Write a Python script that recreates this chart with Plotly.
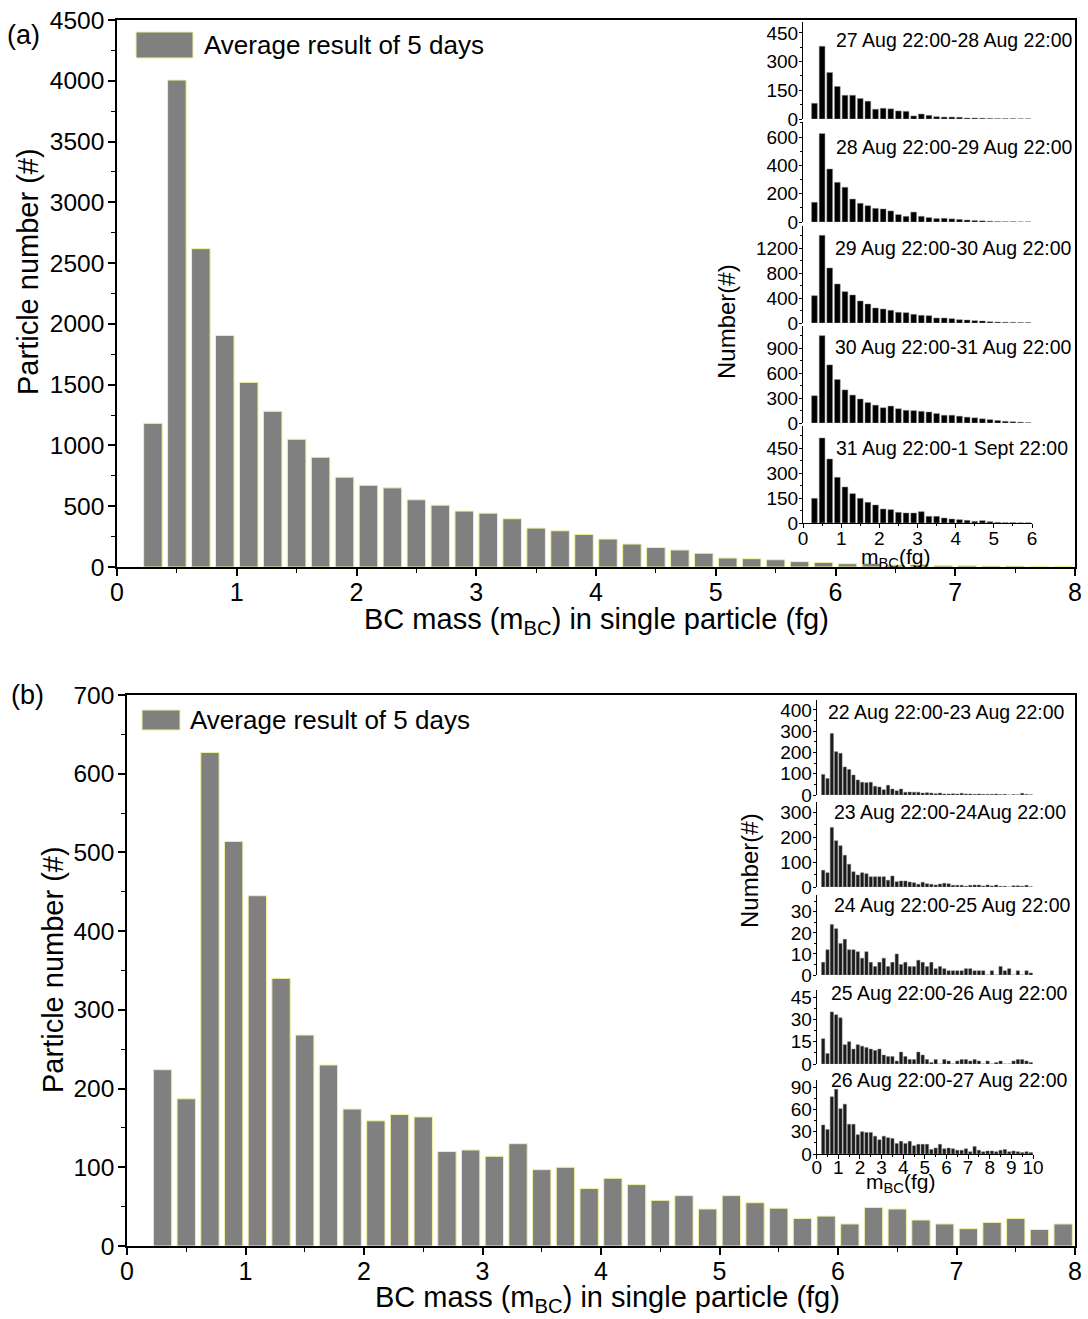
import plotly.graph_objects as go

W, H = 1088, 1319
FONT = "Liberation Sans, Arial, sans-serif"

# ---------------- data ----------------
main_bins = [0.3, 0.5, 0.7, 0.9, 1.1, 1.3, 1.5, 1.7, 1.9, 2.1, 2.3, 2.5, 2.7, 2.9, 3.1, 3.3,
             3.5, 3.7, 3.9, 4.1, 4.3, 4.5, 4.7, 4.9, 5.1, 5.3, 5.5, 5.7, 5.9, 6.1, 6.3, 6.5,
             6.7, 6.9, 7.1, 7.3, 7.5, 7.7, 7.9]
main_a = [1182, 4006, 2619, 1905, 1519, 1281, 1051, 903, 739, 672, 651, 553, 509, 460, 443, 397,
          320, 298, 268, 230, 189, 161, 140, 113, 74, 68, 60, 44, 38, 27, 30, 16,
          19, 14, 13, 8, 8, 5, 5]
main_b = [224, 187, 627, 514, 445, 340, 268, 230, 174, 159, 167, 164, 120, 122, 114, 130,
          97, 100, 73, 86, 78, 58, 64, 47, 64, 55, 48, 35, 38, 28, 49, 47,
          33, 28, 22, 30, 35, 21, 28]

inset_a_bins = [0.3, 0.5, 0.7, 0.9, 1.1, 1.3, 1.5, 1.7, 1.9, 2.1, 2.3, 2.5, 2.7, 2.9, 3.1,
                3.3, 3.5, 3.7, 3.9, 4.1, 4.3, 4.5, 4.7, 4.9, 5.1, 5.3, 5.5, 5.7, 5.9]
a1 = [82, 380, 243, 170, 124, 124, 107, 93, 51, 56, 53, 42, 40, 16, 26, 19, 12, 10, 10, 9, 5, 5, 4, 3, 2, 2, 2, 1, 1]
a2 = [139, 624, 374, 280, 245, 162, 132, 115, 96, 92, 78, 52, 40, 70, 40, 31, 24, 26, 22, 18, 14, 10, 8, 5, 3, 2, 2, 1, 1]
a3 = [437, 1403, 880, 624, 501, 448, 352, 304, 240, 224, 203, 171, 165, 139, 123, 117, 80, 80, 69, 53, 48, 37, 32, 20, 15, 12, 10, 8, 6]
a4 = [327, 1048, 697, 522, 397, 335, 288, 245, 214, 183, 203, 171, 152, 148, 140, 132, 113, 93, 93, 82, 70, 62, 50, 40, 30, 20, 15, 10, 5]
a5 = [148, 510, 384, 274, 216, 176, 148, 124, 108, 84, 80, 64, 60, 60, 68, 40, 40, 30, 24, 20, 16, 10, 14, 8, 4, 2, 2, 1, 1]
inset_a_labels = ["27 Aug 22:00-28 Aug 22:00", "28 Aug 22:00-29 Aug 22:00", "29 Aug 22:00-30 Aug 22:00",
                  "30 Aug 22:00-31 Aug 22:00", "31 Aug 22:00-1 Sept 22:00"]
inset_a_ticks = [[0, 150, 300, 450], [0, 200, 400, 600], [0, 400, 800, 1200], [0, 300, 600, 900], [0, 150, 300, 450]]

inset_b_bins = [0.3, 0.5, 0.7, 0.9, 1.1, 1.3, 1.5, 1.7, 1.9, 2.1, 2.3, 2.5, 2.7, 2.9, 3.1, 3.3, 3.5,
                3.7, 3.9, 4.1, 4.3, 4.5, 4.7, 4.9, 5.1, 5.3, 5.5, 5.7, 5.9, 6.1, 6.3, 6.5, 6.7, 6.9,
                7.1, 7.3, 7.5, 7.7, 7.9, 8.1, 8.3, 8.5, 8.7, 8.9, 9.1, 9.3, 9.5, 9.7, 9.9]
b1 = [97, 78, 289, 204, 196, 132, 120, 94, 71, 60, 58, 60, 41, 38, 25, 46, 28, 20, 28, 13, 14, 13, 13, 9, 11,
      9, 6, 9, 5, 5, 6, 5, 8, 5, 5, 3, 5, 3, 3, 3, 5, 2, 3, 0, 2, 1, 8, 3, 1]
b2 = [67, 57, 238, 185, 165, 127, 91, 61, 48, 57, 53, 41, 41, 41, 41, 27, 44, 21, 24, 24, 20, 17, 11, 19, 13,
      11, 8, 12, 15, 13, 7, 7, 7, 3, 7, 8, 8, 4, 8, 4, 8, 3, 3, 0, 5, 5, 3, 7, 1]
b3 = [6, 12, 24, 22, 15, 17, 12, 12, 11, 8, 11, 6, 4, 6, 8, 4, 6, 10, 5, 6, 4, 4, 7, 6, 4,
      6, 3, 4, 3, 2, 2, 2, 2, 3, 3, 2, 2, 2, 0, 2, 0, 4, 2, 3, 0, 2, 0, 2, 1]
b4 = [17, 7, 35, 33, 31, 13, 15, 10, 13, 12, 11, 10, 9, 10, 6, 5, 5, 2, 8, 5, 3, 3, 8, 6, 3,
      1, 3, 0, 3, 2, 0, 2, 3, 3, 2, 3, 2, 0, 2, 0, 1, 2, 0, 0, 2, 3, 3, 2, 1]
b5 = [39, 33, 77, 87, 61, 67, 40, 40, 26, 30, 29, 29, 24, 19, 24, 22, 21, 14, 17, 14, 17, 11, 13, 13, 13,
      6, 8, 13, 7, 8, 7, 5, 5, 7, 3, 10, 5, 3, 4, 4, 3, 5, 6, 3, 4, 3, 2, 3, 2]
inset_b_labels = ["22 Aug 22:00-23 Aug 22:00", "23 Aug 22:00-24Aug 22:00", "24 Aug 22:00-25 Aug 22:00",
                  "25 Aug 22:00-26 Aug 22:00", "26 Aug 22:00-27 Aug 22:00"]
inset_b_ticks = [[0, 100, 200, 300, 400], [0, 100, 200, 300], [0, 10, 20, 30], [0, 15, 30, 45], [0, 30, 60, 90]]

x_ticks_main = [0, 1, 2, 3, 4, 5, 6, 7, 8]


def fx(p):
    return p / W


def fy(p):
    return 1 - p / H


fig = go.Figure()
layout = dict(width=W, height=H, margin=dict(l=0, r=0, t=0, b=0, pad=0), autosize=False,
              paper_bgcolor="white", plot_bgcolor="rgba(0,0,0,0)", showlegend=False,
              font=dict(family=FONT, color="black"), barmode="overlay")

GRAY = "#808080"
EDGE = "#f2f2a0"


def main_axes(n, xdom, ydom, yrange, ydtick, yminor):
    xa = dict(domain=xdom, range=[0, 8], anchor="y%d" % n if n > 1 else "y", automargin=False,
              showgrid=False, zeroline=False, showline=True, linecolor="black", linewidth=1.5,
              mirror=True, ticks="outside", ticklen=7, tickwidth=1.5, tickcolor="black",
              tickvals=x_ticks_main, tickfont=dict(size=25, family=FONT), ticklabelstandoff=-5,
              minor=dict(dtick=0.5, ticks="outside", ticklen=4, tickwidth=1.2, tickcolor="black"))
    ya = dict(domain=ydom, range=yrange, anchor="x%d" % n if n > 1 else "x", automargin=False,
              showgrid=False, zeroline=False, showline=True, linecolor="black", linewidth=1.5,
              mirror=True, ticks="outside", ticklen=7, tickwidth=1.5, tickcolor="black",
              dtick=ydtick, tickfont=dict(size=24.5, family=FONT), ticklabelstandoff=-1,
              minor=dict(dtick=yminor, ticks="outside", ticklen=4, tickwidth=1.2, tickcolor="black"))
    return xa, ya


xa, ya = main_axes(1, [fx(117), fx(1075)], [fy(567), fy(20)], [0, 4500], 500, 250)
layout["xaxis"], layout["yaxis"] = xa, ya
xa, ya = main_axes(2, [fx(127), fx(1075)], [fy(1246), fy(695)], [0, 700], 100, 50)
layout["xaxis2"], layout["yaxis2"] = xa, ya

fig.add_trace(go.Bar(x=main_bins, y=main_a, width=0.155, xaxis="x", yaxis="y",
                     marker=dict(color=GRAY, line=dict(color=EDGE, width=1)),
                     name="Average result of 5 days"))
fig.add_trace(go.Bar(x=main_bins, y=main_b, width=0.155, xaxis="x2", yaxis="y2",
                     marker=dict(color=GRAY, line=dict(color=EDGE, width=1)),
                     name="Average result of 5 days"))

annotations = []
shapes = []

# main axis titles
for (x, y) in [(596, 621), (607, 1299)]:
    annotations.append(dict(text="BC mass (m<sub>BC</sub>) in single particle (fg)", x=fx(x), y=fy(y),
                            xref="paper", yref="paper", showarrow=False, xanchor="center", yanchor="middle",
                            font=dict(size=29, family=FONT)))
for (x, y) in [(28, 272), (53, 970)]:
    annotations.append(dict(text="Particle number (#)", x=fx(x), y=fy(y), xref="paper", yref="paper",
                            textangle=-90, showarrow=False, xanchor="center", yanchor="middle",
                            font=dict(size=29, family=FONT)))


def add_inset(start_idx, bins, series, labels, ticks, xdom_px, xrange, xticks, panels, title_pos,
              bar_col, edge_col, xstand):
    for k, (vals, lab, tv, (bot, top, ymax), (tx, ty)) in enumerate(zip(series, labels, ticks, panels, title_pos)):
        n = start_idx + k
        last = k == len(series) - 1
        xa = dict(domain=[fx(xdom_px[0]), fx(xdom_px[1])], range=xrange, anchor="y%d" % n, automargin=False,
                  showgrid=False, zeroline=False, showline=last, linecolor="black", linewidth=1,
                  ticks="outside" if last else "", ticklen=4, tickcolor="black",
                  tickvals=xticks, showticklabels=last, tickfont=dict(size=19, family=FONT),
                  ticklabelstandoff=xstand)
        if last:
            xa["minor"] = dict(tickvals=[v + 0.5 for v in xticks[:-1]], ticks="outside",
                               ticklen=2, tickcolor="black")
        step = tv[1] - tv[0]
        ya = dict(domain=[fy(bot), fy(top)], range=[0, ymax], anchor="x%d" % n, automargin=False,
                  showgrid=False, zeroline=False, showline=True, linecolor="black", linewidth=1,
                  ticks="outside", ticklen=3, tickcolor="black", tickvals=tv,
                  tickfont=dict(size=19, family=FONT), ticklabelstandoff=-3,
                  minor=dict(tickvals=[v + step / 2 for v in tv], ticks="outside", ticklen=2,
                             tickcolor="black"))
        layout["xaxis%d" % n] = xa
        layout["yaxis%d" % n] = ya
        fig.add_trace(go.Bar(x=bins, y=vals, width=0.15, xaxis="x%d" % n, yaxis="y%d" % n,
                             marker=dict(color=bar_col, line=dict(color=edge_col, width=0.5)),
                             name=lab))
        annotations.append(dict(text=lab, x=fx(tx), y=fy(ty), xref="paper", yref="paper",
                                xanchor="left", yanchor="middle", showarrow=False,
                                font=dict(size=19.5, family=FONT)))


add_inset(3, inset_a_bins, [a1, a2, a3, a4, a5], inset_a_labels, inset_a_ticks,
          (803, 1032), [0, 6], [0, 1, 2, 3, 4, 5, 6],
          [(119, 22, 507), (222, 122, 706), (323, 226, 1552), (423, 326, 1164), (523, 426, 582)],
          [(834, 40), (834, 147), (833, 248), (833, 347), (834, 448)], "black", "#888888", -6)
add_inset(8, inset_b_bins, [b1, b2, b3, b4, b5], inset_b_labels, inset_b_ticks,
          (816.7, 1033), [0, 10], [0, 1, 2, 3, 4, 5, 6, 7, 8, 9, 10],
          [(795, 700, 447), (887, 802, 340), (975, 895, 38), (1064, 990, 49.7), (1154, 1080, 99.5)],
          [(826, 712), (832, 812), (832, 905), (829, 993), (829, 1080)], "#1a1a1a", "#777777", -8)

# inset axis titles
for (x, y) in [(742, 262), (765, 930)]:
    annotations.append(dict(text="Number(#)", x=fx(x), y=fy(y), xref="paper", yref="paper",
                            textangle=-90, showarrow=False, font=dict(size=24, family=FONT)))
for (x, y) in [(932, 558), (937, 1198)]:
    annotations.append(dict(text="m<sub>BC</sub>(fg)", x=fx(x), y=fy(y), xref="paper", yref="paper",
                            showarrow=False, font=dict(size=21, family=FONT)))

# panel labels
annotations.append(dict(text="(a)", x=fx(5), y=fy(18), xref="paper", yref="paper", xanchor="left",
                        showarrow=False, font=dict(size=27, family=FONT)))
annotations.append(dict(text="(b)", x=fx(9), y=fy(695), xref="paper", yref="paper", xanchor="left",
                        showarrow=False, font=dict(size=27, family=FONT)))

# legend boxes (drawn manually to match the wide patch)
for (x0, x1, y0, y1, tx, ty, fs) in [(136, 193, 32, 58, 202, 45, 26), (142, 180, 710, 730, 188, 720, 26)]:
    shapes.append(dict(type="rect", xref="paper", yref="paper", x0=fx(x0), x1=fx(x1), y0=fy(y1), y1=fy(y0),
                       fillcolor=GRAY, line=dict(color=EDGE, width=1)))
    annotations.append(dict(text="Average result of 5 days", x=fx(tx), y=fy(ty), xref="paper", yref="paper",
                            xanchor="left", yanchor="middle", showarrow=False, font=dict(size=fs, family=FONT)))

layout["annotations"] = annotations
layout["shapes"] = shapes
fig.update_layout(**layout)
fig.write_html("out.html", config={"displayModeBar": False},
               post_script="document.body.style.margin='0';document.body.style.overflow='hidden';")
